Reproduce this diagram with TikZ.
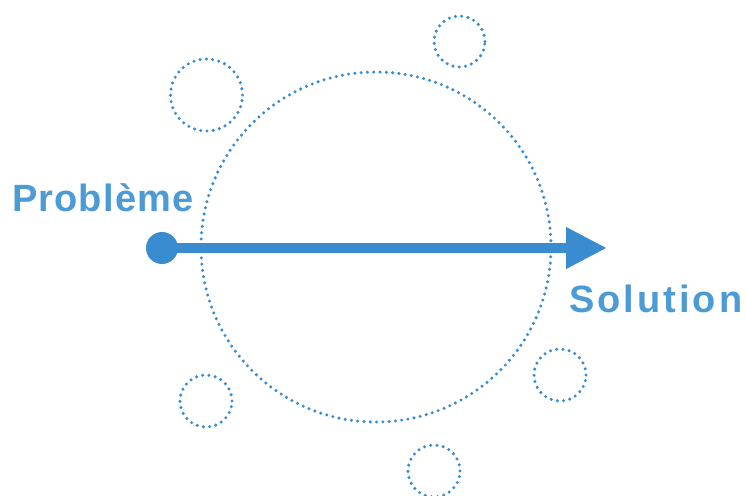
\documentclass[tikz,border=0pt]{standalone}
\usepackage{fontspec}
\setmainfont{Liberation Sans}
\usetikzlibrary{arrows.meta}
\definecolor{lineblue}{RGB}{58,140,208}
\definecolor{textblue}{RGB}{77,155,213}
\tikzset{
  dotring/.style={circle, inner sep=0pt, draw=lineblue, line width=3.4pt,
    dash pattern=on 0pt off 6.3pt, line cap=round},
  wordlabel/.style={text=textblue, font=\fontsize{38}{40}\selectfont\bfseries, inner sep=0pt, anchor=base west}
}
\begin{document}
\begin{tikzpicture}[x=1pt,y=-1pt]
\useasboundingbox[fill=white] (0,0) rectangle (746,495);
\node[dotring, minimum size=350pt] (big) at (376,247) {};
\node[dotring, minimum size=72pt] (c1) at (206.5,95) {};
\node[dotring, minimum size=51pt] (c2) at (459.5,41.5) {};
\node[dotring, minimum size=52pt] (c3) at (206,401) {};
\node[dotring, minimum size=52pt] (c4) at (560,375) {};
\node[dotring, minimum size=52pt] (c5) at (434,471) {};
\node[circle, fill=lineblue, inner sep=0pt, minimum size=32pt] (dot) at (162,248) {};
\coordinate (tip) at (607,248);
\draw[lineblue, line width=10pt, -{Triangle[length=41pt,width=39pt]}] (dot.center) -- (tip);
\node[wordlabel] (prob) at (12,211) {\addfontfeature{LetterSpace=3}Problème};
\node[wordlabel] (sol) at (569,312) {\addfontfeature{LetterSpace=8}Solution};
\end{tikzpicture}
\end{document}
